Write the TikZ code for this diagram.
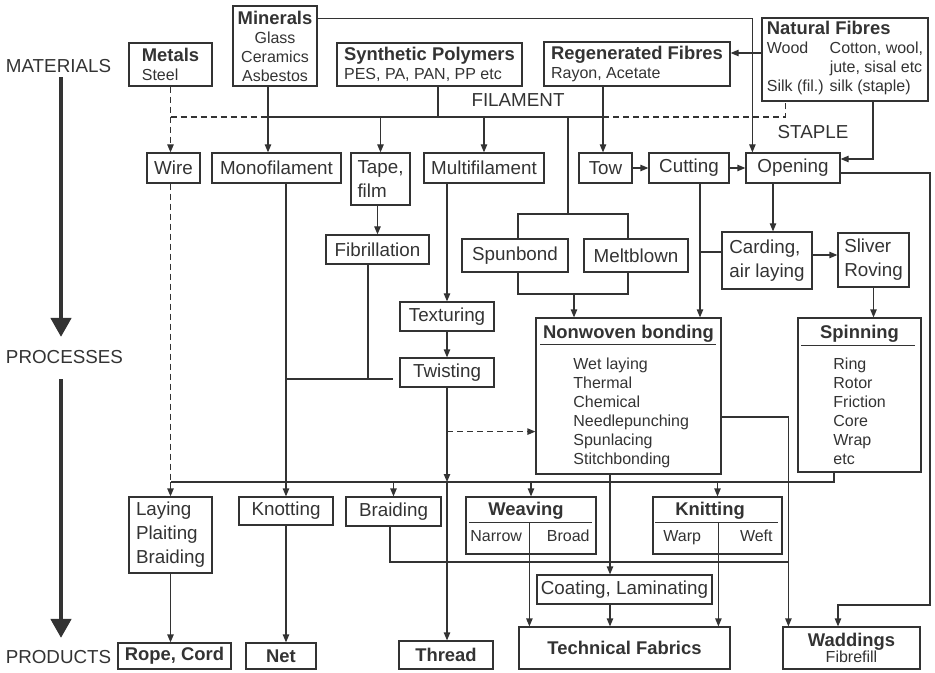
\documentclass[tikz,border=0pt]{standalone}
\usepackage{fontspec}
\setmainfont{Liberation Sans}
\usetikzlibrary{arrows.meta, calc, positioning}
\definecolor{ink}{HTML}{333333}
\newcommand\boxfont{\fontsize{9.4}{12}\selectfont}
\newcommand\subfont{\fontsize{8}{9.5}\selectfont}
\newcommand\titlefont{\fontsize{9.2}{9.5}\selectfont\bfseries}
\tikzset{
  proc/.style={
    rectangle,
    draw=ink, line width=0.6pt,
    inner sep=0pt,
    text=ink,
    font=\boxfont
  },
  dims/.style 2 args={
    minimum width=#1*0.5pt,
    minimum height=#2*0.5pt
  },
  stagetext/.style={
    text=ink,
    font=\boxfont,
    inner sep=0pt
  },
  link/.style={
    draw=ink,
    line width=0.6pt
  },
  arrow/.style={
    draw=ink,
    line width=0.6pt,
    -{Triangle[length=4pt,width=3.2pt]}
  },
  broken/.style={
    dash pattern=on 3pt off 2pt
  },
  stage/.style={
    draw=ink,
    line width=2.2pt,
    -{Triangle[length=9.5pt,width=10pt]}
  }
}

\begin{document}
\begin{tikzpicture}[x=0.5pt, y=-0.5pt]
\useasboundingbox (0,0) rectangle (935,673);

% stages
\node[stagetext] (materials) at (58.5,66) {MATERIALS};
\node[stagetext] (processes) at (64.5,357) {PROCESSES};
\node[stagetext] (products) at (58.5,657) {PRODUCTS};
\coordinate (axis) at (61,0);
\draw[stage, shorten <=2pt, shorten >=6.5pt] (materials.south -| axis) -- (processes.north -| axis);
\draw[stage, shorten <=7.5pt, shorten >=6pt] (processes.south -| axis) -- (products.north -| axis);

% materials
\node[proc, dims={83}{43}, align=left, font=\subfont] (metals) at (170.5,64.5)
{{\titlefont Metals}\\Steel};
\node[proc, dims={84}{80}, align=center, font=\subfont] (minerals) at (275,46)
{{\titlefont Minerals}\\Glass\\Ceramics\\Asbestos};
\node[proc, dims={185}{43}, align=left, font=\subfont] (synth) at (429.5,64.5)
{{\titlefont Synthetic Polymers}\\PES, PA, PAN, PP etc};
\node[proc, dims={186}{44}, align=left, font=\subfont] (regen) at (637,64)
{{\titlefont Regenerated Fibres}\\Rayon, Acetate};
\node[proc, dims={166}{83}, font=\subfont] (natural) at (845,59.5)
{\begin{tabular}{@{}l@{\hspace{3pt}}l@{}}
   \multicolumn{2}{@{}l@{}}{\titlefont Natural Fibres}\\
   Wood        & Cotton, wool,\\
               & jute, sisal etc\\
   Silk (fil.) & silk (staple)\\
 \end{tabular}};

\node[stagetext] (filament) at (518,100) {FILAMENT};
\node[stagetext] (staple) at (813,132) {STAPLE};

% first processes
\node[proc, dims={53}{30}] (wire) at (173.5,168) {Wire};
\node[proc, dims={129}{30}] (mono) at (276.5,168) {Monofilament};
\node[proc, dims={59}{52}, align=left] (tape) at (380.5,179) {Tape,\\film};
\node[proc, dims={120}{30}] (multi) at (484,168) {Multifilament};
\node[proc, dims={53}{30}] (tow) at (605.5,168) {Tow};
\node[proc, dims={80}{30}] (cutting) at (689,168) {Cutting};
\node[proc, dims={94}{30}] (opening) at (793,168) {Opening};

\node[proc, dims={103}{29}] (fibril) at (377.5,249.5) {Fibrillation};
\node[proc, dims={106}{33}] (spunbond) at (515,255.5) {Spunbond};
\node[proc, dims={104}{33}] (meltblown) at (636,255.5) {Meltblown};
\node[proc, dims={90}{57}, align=left] (carding) at (767,260.5) {Carding,\\air laying};
\node[proc, dims={71}{54}, align=left] (sliver) at (873.5,260) {Sliver\\Roving};

\node[proc, dims={94}{29}] (texturing) at (447,316.5) {Texturing};
\node[proc, dims={94}{29}] (twisting) at (447,372.5) {Twisting};

% bonding and spinning
\node[proc, dims={185}{156}] (nonwoven) at (628.5,396) {};
\node[stagetext, font=\titlefont, anchor=base] (nwtitle) at (628.5,338) {Nonwoven bonding};
\draw[link] ($(nonwoven.north west)+(5,27)$) -- ($(nonwoven.north east)+(-6,27)$);
\node[stagetext, font=\subfont, align=left, anchor=north west] (nwlist) at (573,358)
{Wet laying\\Thermal\\Chemical\\Needlepunching\\Spunlacing\\Stitchbonding};

\node[proc, dims={123}{154}] (spinning) at (859.5,395) {};
\node[stagetext, font=\titlefont, anchor=base] (sptitle) at (859.5,338) {Spinning};
\draw[link] ($(spinning.north west)+(4,28)$) -- ($(spinning.north east)+(-7,28)$);
\node[stagetext, font=\subfont, align=left, anchor=north west] (splist) at (833,358)
{Ring\\Rotor\\Friction\\Core\\Wrap\\etc};

% fabric forming
\node[proc, dims={83}{76}, align=left] (laying) at (170.5,535) {Laying\\Plaiting\\Braiding};
\node[proc, dims={94}{28}] (knotting) at (286,511) {Knotting};
\node[proc, dims={95}{29}] (braiding) at (393.5,511.5) {Braiding};

\node[proc, dims={130}{57}] (weaving) at (531,525.5) {};
\node[stagetext, font=\titlefont, anchor=base] (wvtitle) at (526,515) {Weaving};
\draw[link] ($(weaving.north west)+(4,26)$) -- ($(weaving.north east)+(-5,26)$);
\node[stagetext, font=\subfont, anchor=base west] (narrow) at (470,541) {Narrow};
\node[stagetext, font=\subfont, anchor=base east] (broad) at (590,541) {Broad};

\node[proc, dims={129}{57}] (knitting) at (717.5,525.5) {};
\node[stagetext, font=\titlefont, anchor=base] (kntitle) at (710,515) {Knitting};
\draw[link] ($(knitting.north west)+(3,26)$) -- ($(knitting.north east)+(-5,26)$);
\node[stagetext, font=\subfont, anchor=base west] (warp) at (663,541) {Warp};
\node[stagetext, font=\subfont, anchor=base east] (weft) at (773,541) {Weft};

\node[proc, dims={175}{29}] (coating) at (624.5,589.5) {Coating, Laminating};

% products
\node[proc, dims={113}{26}, font=\titlefont] (rope) at (174.5,656) {Rope, Cord};
\node[proc, dims={70}{26}, font=\titlefont] (net) at (281,656) {Net};
\node[proc, dims={94}{28}, font=\titlefont] (thread) at (446,655) {Thread};
\node[proc, dims={211}{42}, font=\titlefont] (techfab) at (624.5,648) {Technical Fabrics};
\node[proc, dims={137}{42}, align=center, font=\fontsize{8}{8}\selectfont] (waddings) at (851.5,648)
{{\titlefont Waddings}\\Fibrefill};

% edges

%% helper points
\coordinate (fil) at (0,117);
\coordinate (dist) at (0,482);
\coordinate (yarnline) at (0,379);
\coordinate (brline) at (0,562);
\coordinate (minout) at ($(minerals.south)+(-7,0)$);
\coordinate (mintop) at ($(minerals.north east)+(0,13)$);
\coordinate (synout) at ($(synth.south)+(8.5,0)$);
\coordinate (regout) at ($(regen.south)+(-34,0)$);
\coordinate (silk) at ($(natural.south west)+(24,0)$);
\coordinate (nfs) at ($(natural.south)+(28,0)$);
\coordinate (nfw) at ($(natural.west)+(0,-6.5)$);
\coordinate (webtop) at (568,214);
\coordinate (webbot) at (574,294);
\coordinate (cutout) at ($(cutting.south)+(11,0)$);
\coordinate (openout) at ($(opening.south)+(-20,0)$);
\coordinate (cdw) at ($(carding.west)+(0,-8.5)$);
\coordinate (cde) at ($(carding.east)+(0,-5.5)$);
\coordinate (wadloop) at (930,605);
\coordinate (fibout) at ($(fibril.south)+(-9.5,0)$);
\coordinate (yarnend) at (393,379);
\coordinate (twd) at ($(twisting.south)+(0,44)$);
\coordinate (spinout) at ($(spinning.south)+(-25.5,0)$);
\coordinate (nwout) at ($(nonwoven.south)+(-18.5,0)$);
\coordinate (nwe) at ($(nonwoven.east)+(0,21)$);
\coordinate (wadin) at ($(waddings.north west)+(6,0)$);
\coordinate (brout) at ($(braiding.south)+(-3.5,0)$);
\coordinate (wvdiv) at ($(weaving.north west)+(64,26)$);
\coordinate (kndiv) at ($(knitting.north west)+(66,26)$);

%% materials
\draw[arrow, broken] (metals.south) -- (metals.south |- wire.north);
\draw[link, broken] (metals.south |- fil) -- (minout |- fil);
\draw[arrow] (minout) -- (minout |- mono.north);
\draw[link] (minout |- fil) -- (regout |- fil);
\draw[link, broken] (regout |- fil) -- (silk |- fil) -- (silk);
\draw[link] (synout) -- (synout |- fil);
\draw[arrow] (regout) -- (regout |- tow.north);
\draw[arrow] (mintop) -| ($(opening.north west)+(7,0)$);
\draw[arrow] (nfw) -- (nfw -| regen.east);
\draw[arrow] (nfs) |- ($(opening.east)+(0,-9)$);

%% filament
\draw[arrow] (tape.north |- fil) -- (tape.north);
\draw[arrow] (multi.north |- fil) -- (multi.north);
\draw[link] (webtop |- fil) -- (webtop);
\draw[link] ($(spunbond.north)+(3,0)$) |- (webtop) -| ($(meltblown.north)+(-8,0)$);
\draw[link] ($(spunbond.south)+(3,0)$) |- (webbot) -| ($(meltblown.south)+(-8,0)$);
\draw[arrow] (webbot) -- (webbot |- nonwoven.north);

%% staple
\draw[arrow] (tow.east) -- (cutting.west);
\draw[arrow] (cutting.east) -- (opening.west);
\draw[arrow] (cutout) -- (cutout |- nonwoven.north);
\draw[link] (cdw) -- (cdw -| cutout);
\draw[arrow] (openout) -- (openout |- carding.north);
\draw[arrow] (cde) -- (cde -| sliver.west);
\draw[arrow] (sliver.south) -- (sliver.south |- spinning.north);
\draw[arrow] ($(opening.east)+(0,5)$) -| (wadloop) -| ($(waddings.north)+(-13.5,0)$);

%% yarns
\draw[arrow] (tape.south -| fibril.north) -- (fibril.north);
\draw[arrow] (multi.south -| texturing.north) -- (texturing.north);
\draw[arrow] (texturing.south) -- (twisting.north);
\draw[arrow] (mono.south -| knotting.north) -- (knotting.north);
\draw[link] (fibout) -- (fibout |- yarnline);
\draw[link] (yarnend -| knotting.north) -- (yarnend);
\draw[arrow] (twisting.south) -- (twisting.south |- dist);
\draw[arrow] (twisting.south |- dist) -- (twisting.south |- thread.north);
\draw[arrow, broken] (twd) -- (twd -| nonwoven.west);

%% fabric forming
\draw[link, broken] (wire.south -| laying.north) -- (laying.north |- dist);
\draw[link] (spinout) |- (laying.north |- dist);
\draw[arrow] (laying.north |- dist) -- (laying.north);
\draw[arrow] (braiding.north |- dist) -- (braiding.north);
\draw[arrow] (weaving.north |- dist) -- (weaving.north);
\draw[arrow] (knitting.north |- dist) -- (knitting.north);
\draw[arrow] (nwout) -- (nwout |- coating.north);
\draw[arrow] (nwe) -| (wadin);
\draw[link] (brout) |- (wadin |- brline);

%% products
\draw[arrow] (laying.south) -- (laying.south |- rope.north);
\draw[arrow] (knotting.south) -- (knotting.south |- net.north);
\draw[arrow] (wvdiv) -- (wvdiv |- techfab.north);
\draw[arrow] (kndiv) -- (kndiv |- techfab.north);
\draw[arrow] (nwout |- coating.south) -- (nwout |- techfab.north);
\end{tikzpicture}
\end{document}
